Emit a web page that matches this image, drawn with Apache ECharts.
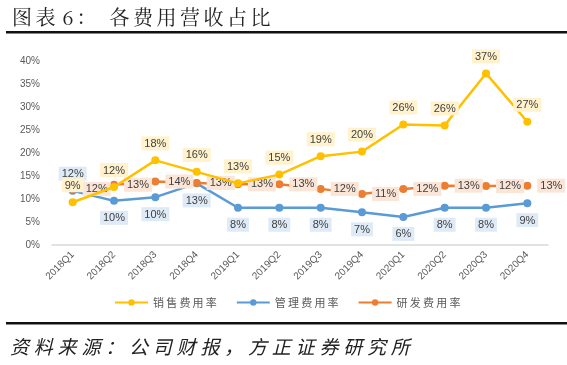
<!DOCTYPE html>
<html><head><meta charset="utf-8">
<script src="https://cdn.jsdelivr.net/npm/echarts@6/dist/echarts.min.js"></script>
<style>html,body{margin:0;padding:0;background:#fff}#c{width:567px;height:365px}</style>
</head><body><div id="c"></div>
<script>
const categories = ['2018Q1','2018Q2','2018Q3','2018Q4','2019Q1','2019Q2','2019Q3','2019Q4','2020Q1','2020Q2','2020Q3','2020Q4'];
const salesRate = [9.3, 12.6, 18.4, 15.9, 13.4, 15.3, 19.3, 20.3, 26.2, 26.0, 37.3, 26.8];
const salesLabels = ['9%','12%','18%','16%','13%','15%','19%','20%','26%','26%','37%','27%'];
const mgmtRate = [11.8, 9.6, 10.4, 13.4, 8.1, 8.1, 8.1, 7.1, 6.1, 8.1, 8.1, 9.1];
const mgmtLabels = ['12%','10%','10%','13%','8%','8%','8%','7%','6%','8%','8%','9%'];
const rdRate = [12.2, 13.1, 13.8, 13.5, 13.2, 13.2, 12.2, 11.1, 12.2, 12.9, 12.8, 12.9];
const rdLabels = ['12%','13%','14%','13%','13%','13%','12%','11%','12%','13%','12%','13%'];
const yTicks = [0,5,10,15,20,25,30,35,40];
const seriesNames = ['销售费用率','管理费用率','研发费用率'];
const titleText = '图表6：各费用营收占比';
const sourceText = '资料来源：公司财报，方正证券研究所';

function spaced(text, x, y, pitchFn, font) {
  const out = [];
  let cx = x;
  for (const ch of text) {
    out.push({type: 'text', x: cx, y: y, style: {text: ch, font: font, fill: '#222', textVerticalAlign: 'middle'}});
    cx += pitchFn(ch);
  }
  return out;
}

const chart = echarts.init(document.getElementById('c'));
const lab = (arr, pos, bg) => ({
  show: true, position: pos, distance: 6,
  formatter: p => arr[p.dataIndex],
  color: '#404040', fontSize: 11, fontFamily: 'Arial, "Liberation Sans", sans-serif',
  backgroundColor: bg, padding: [2, 3, 1, 3]
});
const titleEls = spaced(titleText, 12, 17, ch => ch === '6' ? 14 : (ch === '：' ? 33 : (ch === '表' ? 27 : 23.5)), '20px "Noto Serif CJK SC", "Noto Sans CJK SC", serif');
const srcEls = spaced(sourceText, 10, 347, ch => 23.8, 'italic 19px "Noto Sans CJK SC", sans-serif');

chart.setOption({
  animation: false,
  grid: {left: 52, right: 19, top: 61, bottom: 120},
  xAxis: {
    type: 'category', data: categories, boundaryGap: true,
    axisLine: {lineStyle: {color: '#d9d9d9', width: 1.5}},
    axisTick: {show: false},
    axisLabel: {rotate: 45, color: '#595959', fontSize: 10, margin: 8, fontFamily: 'Arial, "Liberation Sans", sans-serif'}
  },
  yAxis: {
    type: 'value', min: yTicks[0], max: yTicks[yTicks.length-1], interval: 5,
    splitLine: {show: false}, axisLine: {show: false}, axisTick: {show: false},
    axisLabel: {formatter: '{value}%', color: '#595959', fontSize: 10, margin: 12, fontFamily: 'Arial, "Liberation Sans", sans-serif'}
  },
  legend: {
    bottom: 52, left: 109, itemWidth: 33, itemHeight: 8, itemGap: 19,
    textStyle: {color: '#595959', fontSize: 11, fontFamily: '"Noto Sans CJK SC", sans-serif'},
    formatter: n => n.split('').join('\u2009'),
    data: seriesNames
  },
  series: [
    {name: seriesNames[1], type: 'line',
     data: mgmtRate.map((v,i)=> i===0 ? {value: v, label: {position: 'top'}} : v),
     color: '#5b9bd5', symbol: 'circle', symbolSize: 8,
     lineStyle: {width: 2.5}, z: 3,
     label: lab(mgmtLabels, 'bottom', '#deebf7'), emphasis: {disabled: true}},
    {name: seriesNames[2], type: 'line', data: rdRate, color: '#ed7d31', symbol: 'circle', symbolSize: 8,
     lineStyle: {width: 2.5}, z: 4,
     label: lab(rdLabels, 'right', '#fbe5d6'), emphasis: {disabled: true}},
    {name: seriesNames[0], type: 'line', data: salesRate, color: '#ffc000', symbol: 'circle', symbolSize: 8,
     lineStyle: {width: 2.5}, z: 5,
     label: lab(salesLabels, 'top', '#fff2cc'), emphasis: {disabled: true}}
  ],
  graphic: [].concat(titleEls, srcEls, [
    {type: 'rect', shape: {x: 6, y: 31, width: 561, height: 2.5}, style: {fill: '#111'}},
    {type: 'rect', shape: {x: 6, y: 322, width: 561, height: 2.5}, style: {fill: '#111'}}
  ])
});
</script></body></html>
